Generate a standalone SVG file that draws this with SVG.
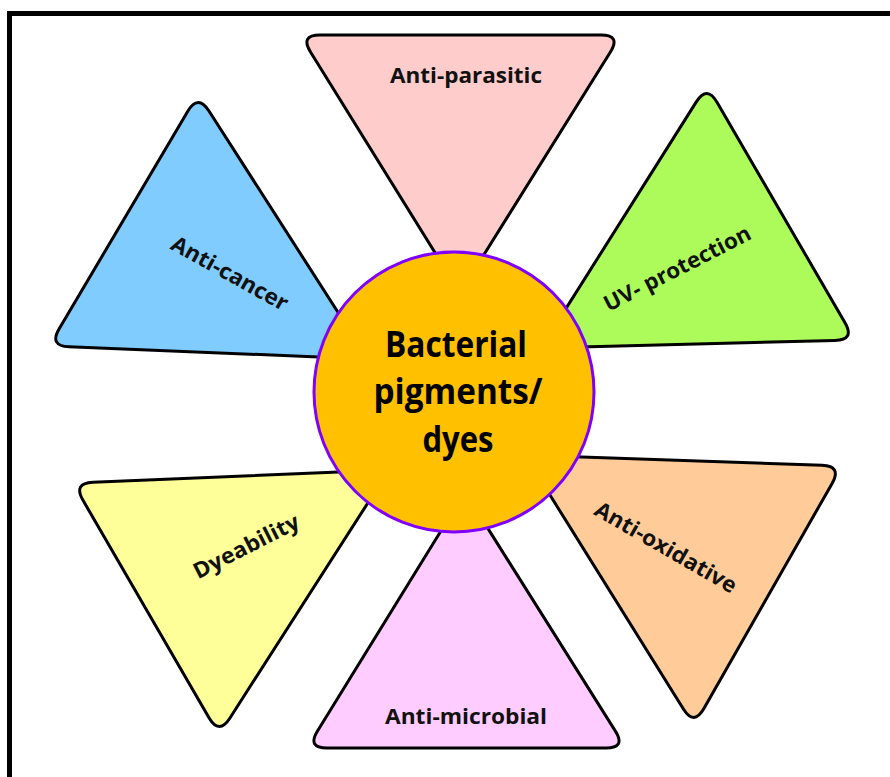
<svg xmlns="http://www.w3.org/2000/svg" width="890" height="777" viewBox="0 0 890 777">
  <style>
    .tri { stroke: #000; stroke-width: 3; stroke-linejoin: round; }
    .lbl { font-family: "Open Sans", "Liberation Sans", sans-serif; font-weight: bold; font-size: 22px; fill: #111; text-anchor: middle; }
    .ctr { font-family: "Open Sans", "Liberation Sans", sans-serif; font-weight: bold; font-size: 36px; fill: #000; text-anchor: middle; }
  </style>
  <rect x="0" y="0" width="890" height="777" fill="#fff"/>
  <g id="frame">
    <rect x="7" y="11" width="883" height="5" fill="#000"/>
    <rect x="7" y="11" width="5" height="766" fill="#000"/>
  </g>
  <g id="connectors"></g>
  <g id="anti-parasitic">
    <path class="tri" fill="#FFCCCC" d="M320,35 L601,35 Q621,35 610.4,52 L470.6,276 Q460,293 449.5,276 L310.5,52 Q300,35 320,35 Z"/>
    <text class="lbl" x="466" y="83" textLength="152" lengthAdjust="spacingAndGlyphs">Anti-parasitic</text>
  </g>
  <g id="anti-cancer">
    <path class="tri" fill="#80CCFF" d="M208.8,110.8 L357.2,342.2 Q368,359 348,358.2 L69,346.8 Q49,346 59.2,328.8 L187.8,111.2 Q198,94 208.8,110.8 Z"/>
    <text class="lbl" transform="translate(230,273) rotate(29)" x="0" y="8" textLength="130" lengthAdjust="spacingAndGlyphs">Anti-cancer</text>
  </g>
  <g id="uv-protection">
    <path class="tri" fill="#ADFB5B" d="M717,102.3 L845,322.7 Q855,340 835,340.5 L561,347.5 Q541,348 551.7,331.1 L696.3,101.9 Q707,85 717,102.3 Z"/>
    <text class="lbl" transform="translate(677,268) rotate(-27)" x="0" y="8" textLength="162" lengthAdjust="spacingAndGlyphs">UV- protection</text>
  </g>
  <g id="dyeability">
    <path class="tri" fill="#FFFF99" d="M93,482.2 L369,470.8 Q389,470 378.2,486.8 L229.8,718.2 Q219,735 209,717.7 L83,500.3 Q73,483 93,482.2 Z"/>
    <text class="lbl" transform="translate(246,546) rotate(-27)" x="0" y="8" textLength="116" lengthAdjust="spacingAndGlyphs">Dyeability</text>
  </g>
  <g id="anti-oxidative">
    <path class="tri" fill="#FFCC99" d="M545,455.7 L822,465.3 Q842,466 832.1,483.4 L703.9,708.6 Q694,726 683.4,709 L535.6,472 Q525,455 545,455.7 Z"/>
    <text class="lbl" transform="translate(666,547) rotate(30)" x="0" y="8" textLength="160" lengthAdjust="spacingAndGlyphs">Anti-oxidative</text>
  </g>
  <g id="anti-microbial">
    <path class="tri" fill="#FFCCFF" d="M475.6,508.9 L615.4,731.1 Q626,748 606,748 L327,748 Q307,748 317.5,731 L454.5,509 Q465,492 475.6,508.9 Z"/>
    <text class="lbl" x="466" y="724" textLength="162" lengthAdjust="spacingAndGlyphs">Anti-microbial</text>
  </g>
  <g id="bacterial-pigments">
    <circle cx="454" cy="392" r="140" fill="#FFC000" stroke="#7F00FF" stroke-width="3"/>
    <text class="ctr" x="456" y="357" textLength="142" lengthAdjust="spacingAndGlyphs">Bacterial</text>
    <text class="ctr" x="458" y="404" textLength="169" lengthAdjust="spacingAndGlyphs">pigments/</text>
    <text class="ctr" x="458" y="452" textLength="71" lengthAdjust="spacingAndGlyphs">dyes</text>
  </g>
</svg>
